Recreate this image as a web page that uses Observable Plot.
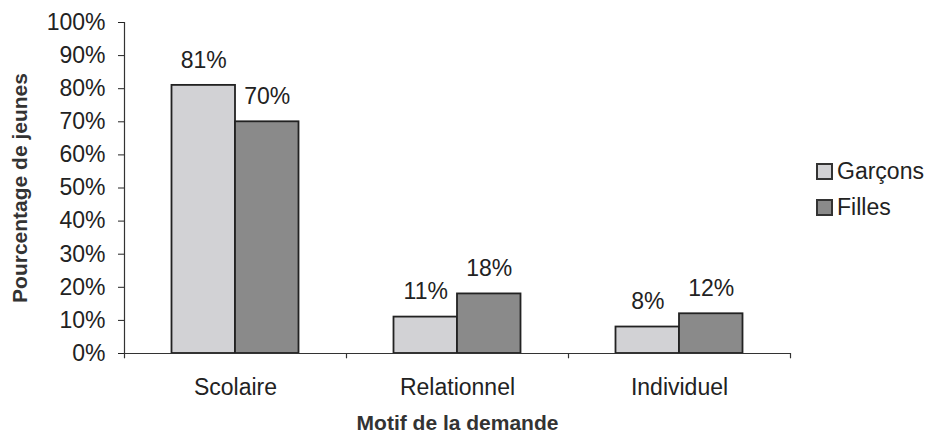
<!DOCTYPE html>
<html>
<head>
<meta charset="utf-8">
<script src="https://cdn.jsdelivr.net/npm/d3@7"></script>
<script src="https://cdn.jsdelivr.net/npm/@observablehq/plot@0.6"></script>
<style>
  body { margin: 0; background: #fff; font-family: "Liberation Sans", Arial, sans-serif; }
  #wrap { position: relative; width: 930px; height: 436px; }
  #chart svg { font-family: "Liberation Sans", Arial, sans-serif; color: #222; }
  #chart g[aria-label="y-axis label"] text, #chart g[aria-label="x-axis label"] text { font-weight: bold; font-size: 21px; fill: #333; }
  #legend { position: absolute; left: 816px; top: 153px; font-size: 23px; color: #222; line-height: 36px; }
  #legend .item { display: flex; align-items: center; }
  #legend .sw { width: 13px; height: 13px; border: 2px solid #333; margin-right: 4px; box-sizing: content-box; }
</style>
</head>
<body>
<div id="wrap">
  <div id="chart"></div>
  <div id="legend"></div>
</div>
<script>
const categories = ["Scolaire", "Relationnel", "Individuel"];
const series = ["Garçons", "Filles"];
const garcons = [81, 11, 8];
const filles = [70, 18, 12];
const yTicks = [0, 10, 20, 30, 40, 50, 60, 70, 80, 90, 100];
const colors = ["#d2d2d5", "#8a8a8a"];

const data = [];
categories.forEach((c, i) => {
  data.push({category: c, sex: series[0], value: garcons[i]});
  data.push({category: c, sex: series[1], value: filles[i]});
});
const gData = data.filter(d => d.sex === series[0]);
const fData = data.filter(d => d.sex === series[1]);

const step = 222; // band width in px
const barW = 63.5;
const inset = (step - barW) / 2;

const plot = Plot.plot({
  width: 930,
  height: 436,
  marginLeft: 124,
  marginRight: 140,
  marginTop: 22,
  marginBottom: 83,
  style: {fontSize: "23px", color: "#222", background: "white"},
  x: {domain: categories, padding: 0},
  y: {domain: [0, 100], ticks: yTicks},
  color: {domain: series, range: colors},
  marks: [
    Plot.axisY({ticks: yTicks, tickFormat: d => d + "%", tickSize: 6, tickPadding: 13, label: "Pourcentage de jeunes", labelAnchor: "center", labelArrow: "none", labelOffset: 112, fontSize: 23}),
    Plot.axisX({tickSize: 0, tickPadding: 25, label: "Motif de la demande", labelAnchor: "center", labelArrow: "none", labelOffset: 76, fontSize: 23}),
    Plot.barY(gData, {
      x: "category", y: "value", fill: "sex", stroke: "#222", strokeWidth: 1.8,
      insetLeft: inset, insetRight: inset, dx: -barW / 2
    }),
    Plot.barY(fData, {
      x: "category", y: "value", fill: "sex", stroke: "#222", strokeWidth: 1.8,
      insetLeft: inset, insetRight: inset, dx: barW / 2
    }),
    Plot.text(gData, {
      x: "category", y: "value", text: d => d.value + "%", dx: -barW / 2, dy: -25, fontSize: 23, fill: "#222"
    }),
    Plot.text(fData, {
      x: "category", y: "value", text: d => d.value + "%", dx: barW / 2, dy: -25, fontSize: 23, fill: "#222"
    }),
    Plot.ruleY([0], {stroke: "#333", strokeWidth: 1.2}),
    Plot.frame({anchor: "left", stroke: "#333", strokeWidth: 1.2}),
    Plot.ruleX(categories, {x: d => d, dx: -step / 2, y1: 0, y2: -1.6, stroke: "#333", strokeWidth: 1.2}),
    Plot.ruleX([categories[categories.length - 1]], {x: d => d, dx: step / 2, y1: 0, y2: -1.6, stroke: "#333", strokeWidth: 1.2})
  ]
});
document.getElementById("chart").appendChild(plot);

const legend = document.getElementById("legend");
series.forEach((s, i) => {
  const item = document.createElement("div");
  item.className = "item";
  const sw = document.createElement("span");
  sw.className = "sw";
  sw.style.background = colors[i];
  const t = document.createElement("span");
  t.textContent = s;
  item.appendChild(sw);
  item.appendChild(t);
  legend.appendChild(item);
});
</script>
</body>
</html>
